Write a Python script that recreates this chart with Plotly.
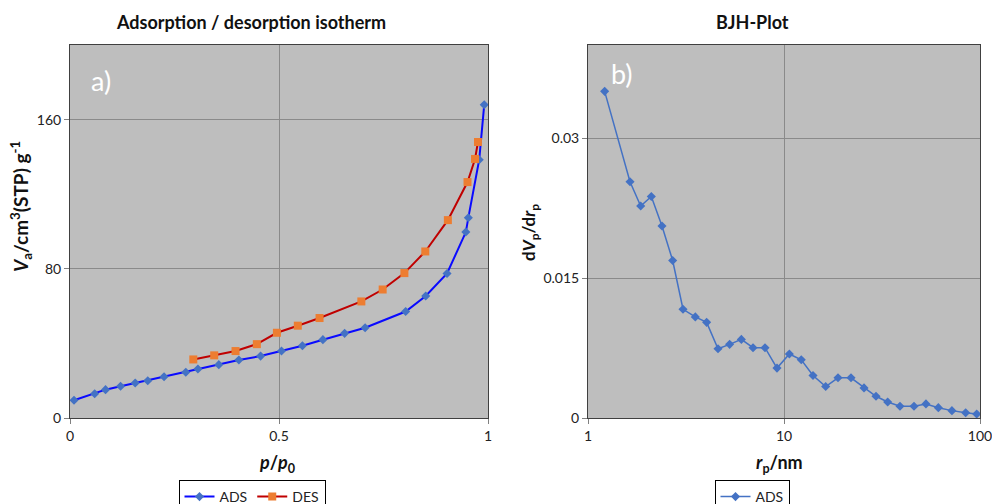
import plotly.graph_objects as go

# ---- data: adsorption / desorption isotherm ----
ads_p = [0.0096, 0.059, 0.085, 0.121, 0.156, 0.186, 0.225, 0.277, 0.306, 0.356, 0.404, 0.456,
         0.506, 0.556, 0.605, 0.657, 0.706, 0.803, 0.851, 0.902, 0.947, 0.953, 0.979, 0.991]
ads_v = [9.5, 13.0, 15.2, 17.0, 18.75, 20.0, 22.1, 24.5, 26.25, 28.6, 31.1, 33.2,
         35.9, 38.75, 42.0, 45.4, 48.4, 57.1, 65.4, 77.5, 99.7, 107.4, 138.5, 168.0]
des_p = [0.295, 0.345, 0.396, 0.447, 0.495, 0.545, 0.597, 0.697, 0.748, 0.800,
         0.850, 0.904, 0.951, 0.969, 0.976]
des_v = [31.4, 33.6, 35.9, 39.6, 45.7, 49.5, 53.6, 62.5, 68.9, 77.7,
         89.3, 106.1, 126.5, 138.9, 148.0]

# ---- data: BJH plot ----
bjh_r = [1.216, 1.638, 1.857, 2.104, 2.385, 2.704, 3.053, 3.528, 4.03, 4.606, 5.28, 6.06,
         6.95, 8.0, 9.21, 10.65, 12.25, 14.06, 16.32, 18.86, 21.97, 25.6, 29.47, 33.8,
         39.06, 46.06, 53.0, 61.3, 71.9, 84.5, 96.2]
bjh_dv = [0.03503, 0.02533, 0.02274, 0.02375, 0.02059, 0.01689, 0.01166, 0.01084, 0.01026,
          0.00743, 0.0079, 0.00843, 0.00754, 0.00754, 0.00535, 0.00686, 0.00624, 0.00456,
          0.00337, 0.00431, 0.00431, 0.00323, 0.00233, 0.00172, 0.00126, 0.00126, 0.00151,
          0.00111, 0.00079, 0.00057, 0.00043]

W, H = 992, 504
FONT = "Lato"
BG = "#bebebe"
GRID = "#8a8a8a"
FRAME = "#404040"

def px_x(p):
    return p / W

def px_y(p):
    return 1 - p / H

fig = go.Figure()

fig.add_trace(go.Scatter(x=ads_p, y=ads_v, mode="lines+markers", name="ADS",
                         line=dict(color="#0a0aff", width=2),
                         marker=dict(symbol="diamond", size=7, color="#4472c4"),
                         xaxis="x", yaxis="y", legend="legend"))
fig.add_trace(go.Scatter(x=des_p, y=des_v, mode="lines+markers", name="DES",
                         line=dict(color="#c00000", width=2),
                         marker=dict(symbol="square", size=8, color="#ed7d31"),
                         xaxis="x", yaxis="y", legend="legend"))
fig.add_trace(go.Scatter(x=bjh_r, y=bjh_dv, mode="lines+markers", name="ADS",
                         line=dict(color="#4472c4", width=1.5),
                         marker=dict(symbol="diamond", size=7, color="#4472c4"),
                         xaxis="x2", yaxis="y2", legend="legend2"))

ax_common = dict(showline=True, mirror=True, linecolor=FRAME, linewidth=1,
                 showgrid=True, gridcolor=GRID, gridwidth=1, zeroline=False,
                 ticks="outside", ticklen=5, tickcolor="#808080", automargin=False,
                 ticklabeloverflow="allow",
                 tickfont=dict(family=FONT, size=14, color="#222"))

fig.update_layout(
    width=W, height=H,
    margin=dict(l=0, r=0, t=0, b=0, autoexpand=False),
    paper_bgcolor="white", plot_bgcolor=BG,
    font=dict(family=FONT),
    xaxis=dict(domain=[px_x(70), px_x(488)], range=[0, 1], dtick=0.5, anchor="y", **ax_common),
    yaxis=dict(domain=[px_y(418), px_y(45)], range=[0, 200], tickvals=[0, 80, 160], anchor="x",
               **ax_common),
    xaxis2=dict(domain=[px_x(588), px_x(980)], type="log", range=[0, 2], dtick=1, anchor="y2",
                **ax_common),
    yaxis2=dict(domain=[px_y(418), px_y(45)], range=[0, 0.04], tickvals=[0, 0.015, 0.03],
                anchor="x2", **ax_common),
    legend=dict(x=px_x(252), xanchor="center", y=px_y(480), yanchor="top",
                orientation="h", bgcolor="white", bordercolor="#000", borderwidth=1,
                font=dict(family=FONT, size=14, color="#222"), itemwidth=30),
    legend2=dict(x=px_x(752), xanchor="center", y=px_y(480), yanchor="top",
                 orientation="h", bgcolor="white", bordercolor="#000", borderwidth=1,
                 font=dict(family=FONT, size=14, color="#222"), itemwidth=30),
    showlegend=True,
)

def note(text, x, y, size, color="#111", angle=0):
    fig.add_annotation(text=text, x=px_x(x), y=px_y(y), xref="paper", yref="paper",
                       xanchor="center", yanchor="middle", showarrow=False, textangle=angle,
                       font=dict(family=FONT, size=size, color=color))

note("<b>Adsorption / desorption isotherm</b>", 251, 22, 18)
note("<b>BJH-Plot</b>", 752, 22, 18)
note("a)", 101, 80, 27, "white")
note("b)", 622, 73, 27, "white")
note("<b><i>p</i>/<i>p</i><sub>0</sub></b>", 277, 463, 18)
note("<b><i>r</i><sub>p</sub>/nm</b>", 779, 463, 18)
note("<b><i>V</i><sub>a</sub>/cm<sup>3</sup>(STP) g<sup>-1</sup></b>", 21, 207, 19, angle=-90)
note("<b>d<i>V</i><sub>p</sub>/d<i>r</i><sub>p</sub></b>", 530, 233, 17, angle=-90)

fig.write_html("out.html")
